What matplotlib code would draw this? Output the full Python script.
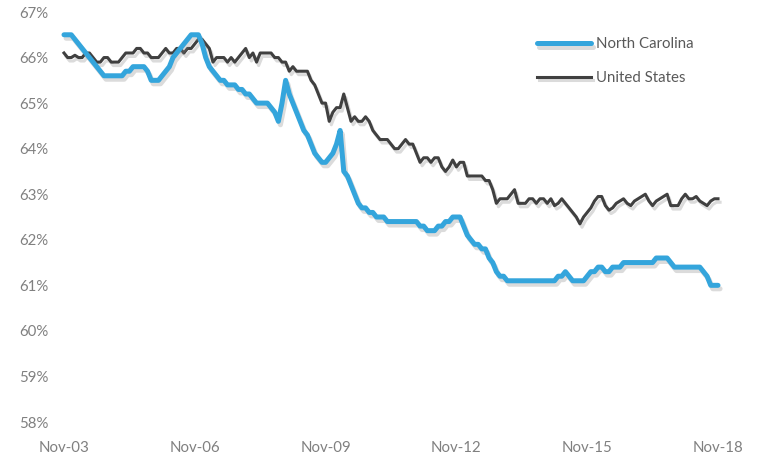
import numpy as np
import matplotlib
matplotlib.use("Agg")
import matplotlib.pyplot as plt
import matplotlib.patheffects as pe

# monthly labour force participation rate, Nov-2003 .. Nov-2018
north_carolina = [
    66.5, 66.5, 66.5, 66.4, 66.3, 66.2, 66.1, 66.0, 65.9, 65.8,
    65.7, 65.6, 65.6, 65.6, 65.6, 65.6, 65.6, 65.7, 65.7, 65.8,
    65.8, 65.8, 65.8, 65.7, 65.5, 65.5, 65.5, 65.6, 65.7, 65.8,
    66.0, 66.1, 66.2, 66.3, 66.4, 66.5, 66.5, 66.5, 66.3, 66.0,
    65.8, 65.7, 65.6, 65.5, 65.5, 65.4, 65.4, 65.4, 65.3, 65.3,
    65.2, 65.2, 65.1, 65.0, 65.0, 65.0, 65.0, 64.9, 64.8, 64.6,
    65.0, 65.5, 65.2, 65.0, 64.8, 64.6, 64.4, 64.3, 64.1, 63.9,
    63.8, 63.7, 63.7, 63.8, 63.9, 64.1, 64.4, 63.5, 63.4, 63.2,
    63.0, 62.8, 62.7, 62.7, 62.6, 62.6, 62.5, 62.5, 62.5, 62.4,
    62.4, 62.4, 62.4, 62.4, 62.4, 62.4, 62.4, 62.4, 62.3, 62.3,
    62.2, 62.2, 62.2, 62.3, 62.3, 62.4, 62.4, 62.5, 62.5, 62.5,
    62.3, 62.1, 62.0, 61.9, 61.9, 61.8, 61.8, 61.6, 61.5, 61.3,
    61.2, 61.2, 61.1, 61.1, 61.1, 61.1, 61.1, 61.1, 61.1, 61.1,
    61.1, 61.1, 61.1, 61.1, 61.1, 61.1, 61.2, 61.2, 61.3, 61.2,
    61.1, 61.1, 61.1, 61.1, 61.2, 61.3, 61.3, 61.4, 61.4, 61.3,
    61.3, 61.4, 61.4, 61.4, 61.5, 61.5, 61.5, 61.5, 61.5, 61.5,
    61.5, 61.5, 61.5, 61.6, 61.6, 61.6, 61.6, 61.5, 61.4, 61.4,
    61.4, 61.4, 61.4, 61.4, 61.4, 61.4, 61.3, 61.2, 61.0, 61.0,
    61.0,
]

united_states = [
    66.1, 66.0, 66.0, 66.05, 66.0, 66.0, 66.1, 66.1, 66.0, 65.9,
    65.9, 66.0, 66.0, 65.9, 65.9, 65.9, 66.0, 66.1, 66.1, 66.1,
    66.2, 66.2, 66.1, 66.1, 66.0, 66.0, 66.0, 66.1, 66.2, 66.1,
    66.1, 66.2, 66.2, 66.1, 66.2, 66.2, 66.3, 66.4, 66.4, 66.3,
    66.2, 65.9, 66.0, 66.0, 66.0, 65.9, 66.0, 65.9, 66.0, 66.1,
    66.2, 66.0, 66.1, 65.9, 66.1, 66.1, 66.1, 66.1, 66.0, 66.0,
    65.9, 65.9, 65.7, 65.8, 65.7, 65.7, 65.7, 65.7, 65.5, 65.4,
    65.2, 65.0, 65.0, 64.6, 64.8, 64.9, 64.9, 65.2, 64.9, 64.6,
    64.7, 64.6, 64.6, 64.7, 64.6, 64.4, 64.3, 64.2, 64.2, 64.2,
    64.1, 64.0, 64.0, 64.1, 64.2, 64.1, 64.1, 63.9, 63.7, 63.8,
    63.8, 63.7, 63.8, 63.8, 63.6, 63.5, 63.6, 63.75, 63.6, 63.7,
    63.7, 63.4, 63.4, 63.4, 63.4, 63.4, 63.3, 63.3, 63.1, 62.8,
    62.9, 62.9, 62.9, 63.0, 63.1, 62.8, 62.8, 62.8, 62.9, 62.9,
    62.8, 62.9, 62.9, 62.8, 62.9, 62.75, 62.8, 62.9, 62.8, 62.7,
    62.6, 62.5, 62.35, 62.5, 62.6, 62.7, 62.85, 62.95, 62.95, 62.75,
    62.65, 62.7, 62.8, 62.85, 62.9, 62.8, 62.75, 62.85, 62.9, 62.95,
    63.0, 62.85, 62.75, 62.85, 62.9, 62.95, 63.0, 62.75, 62.75, 62.75,
    62.9, 63.0, 62.9, 62.9, 62.95, 62.85, 62.8, 62.75, 62.85, 62.9,
    62.9,
]

tick_months = [0, 36, 72, 108, 144, 180]
tick_labels = ["Nov-03", "Nov-06", "Nov-09", "Nov-12", "Nov-15", "Nov-18"]
y_ticks = np.arange(58, 68)

months = np.arange(len(north_carolina))

plt.rcParams['font.family'] = ['Lato', 'DejaVu Sans']

fig = plt.figure(figsize=(7.6, 4.63), dpi=100)
ax = fig.add_axes([64 / 760, 41 / 463, 654 / 760, 410 / 463])

shadow = [pe.SimpleLineShadow(offset=(1.5, -2.5), shadow_color="gray", alpha=0.28),
          pe.Normal()]

ax.plot(months, north_carolina, color="#34A5DC", lw=3.6, label="North Carolina",
        clip_on=False, solid_joinstyle="round", solid_capstyle="round",
        path_effects=shadow, zorder=3)
ax.plot(months, united_states, color="#404040", lw=2.2, label="United States",
        clip_on=False, solid_joinstyle="round", path_effects=shadow, zorder=2)

ax.set_xlim(0, 180)
ax.set_ylim(58, 67)
ax.set_yticks(y_ticks)
ax.set_yticklabels([f"{v}%" for v in y_ticks])
ax.set_xticks(tick_months)
ax.set_xticklabels(tick_labels)
ax.tick_params(length=0, labelsize=10.8, labelcolor="#808080")
ax.tick_params(axis="y", pad=11)
ax.tick_params(axis="x", pad=14)
for s in ax.spines.values():
    s.set_visible(False)

leg = ax.legend(loc="upper left", bbox_to_anchor=(523 / 760, 439 / 463),
                bbox_transform=fig.transFigure, frameon=False, fontsize=10.8,
                handlelength=3.6, labelspacing=1.3, handletextpad=0.35)
for t in leg.get_texts():
    t.set_color("#595959")

fig.savefig("out.png", dpi=100)
